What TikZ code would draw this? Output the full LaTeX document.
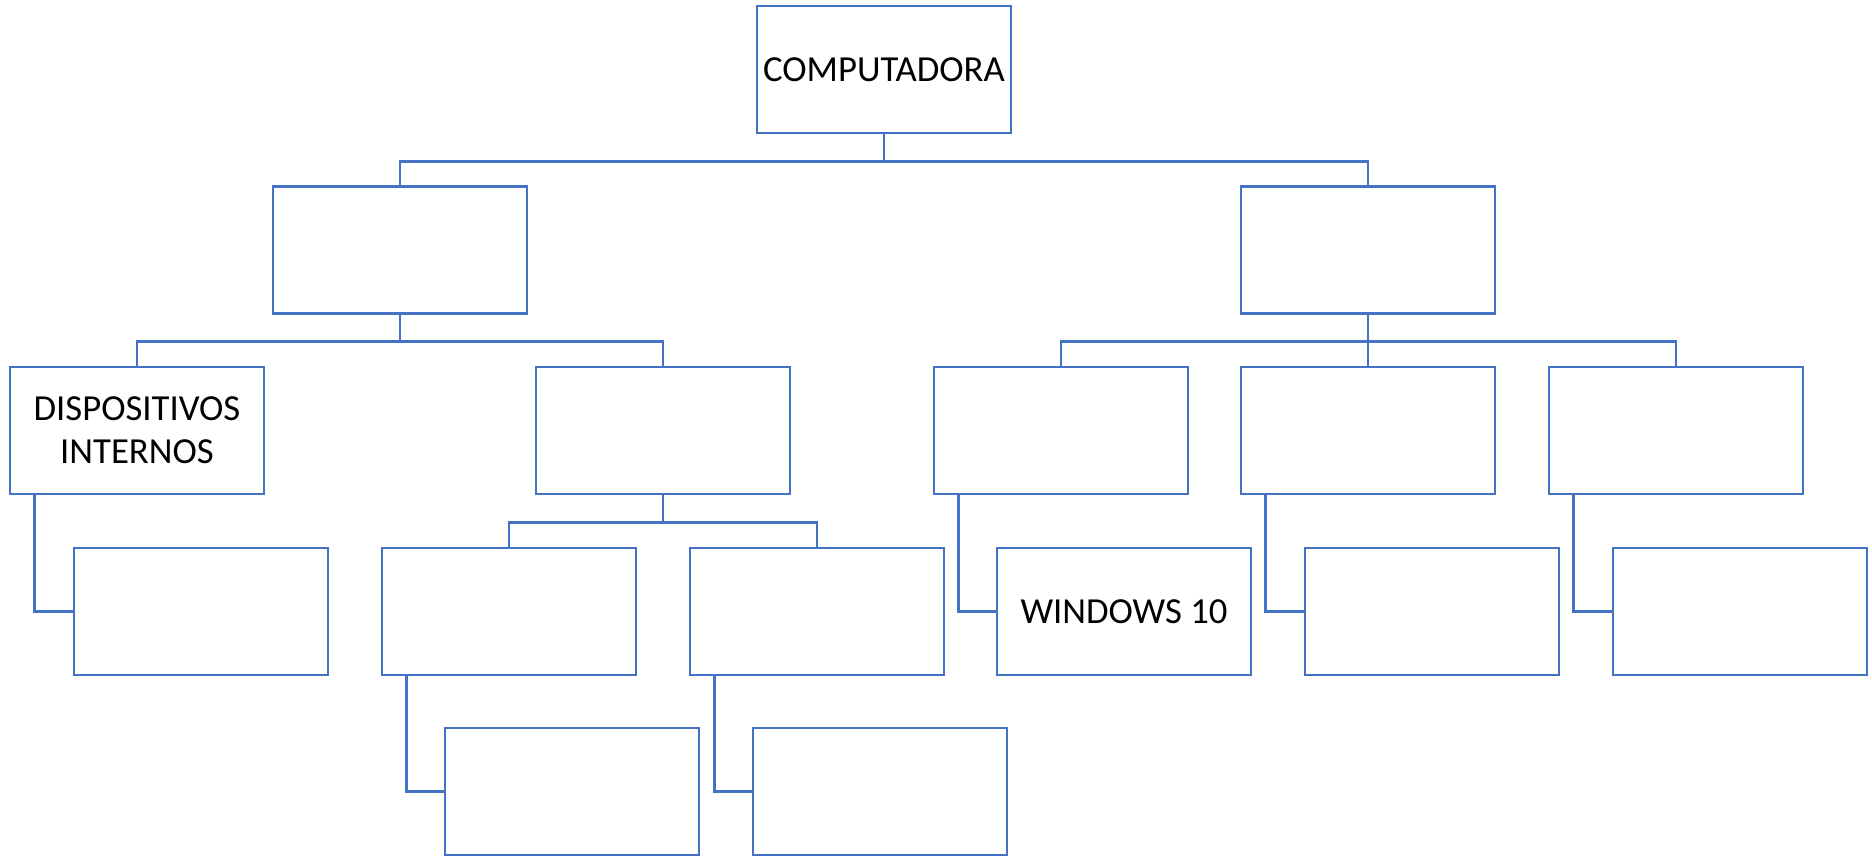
\documentclass[tikz,border=0pt]{standalone}
\usepackage{fontspec}
\setmainfont{Carlito}
\definecolor{boxblue}{HTML}{4472C4}
\tikzset{
  orgbox/.style={draw=boxblue, line width=2.7pt, fill=white,
    minimum width=254pt, minimum height=127pt, inner sep=0pt,
    align=center, font=\fontsize{36.7}{43}\selectfont},
  link/.style={draw=boxblue, line width=2.7pt},
}
\begin{document}
\begin{tikzpicture}[x=1pt, y=-1pt]
\useasboundingbox (0,0) rectangle (1872,855);

% root
\node[orgbox] (top) at (884,69.5) {COMPUTADORA};

% first level
\node[orgbox] (l1a) at (400,250) {};
\node[orgbox] (l1b) at (1368,250) {};

% second level
\node[orgbox] (disp) at (137,430.5) {DISPOSITIVOS\\INTERNOS};
\node[orgbox] (b)    at (663,430.5) {};
\node[orgbox] (d1)   at (1061,430.5) {};
\node[orgbox] (d2)   at (1368,430.5) {};
\node[orgbox] (d3)   at (1676,430.5) {};

% third level
\node[orgbox] (dispc) at (201,611.5) {};
\node[orgbox] (c1)    at (509,611.5) {};
\node[orgbox] (c2)    at (817,611.5) {};
\node[orgbox] (e1)    at (1124,611.5) {WINDOWS 10};
\node[orgbox] (e2)    at (1432,611.5) {};
\node[orgbox] (e3)    at (1740,611.5) {};

% fourth level
\node[orgbox] (c1c) at (572,791.5) {};
\node[orgbox] (c2c) at (880,791.5) {};

% tree connectors
\foreach \p/\c in {top/l1a, top/l1b, l1a/disp, l1a/b, l1b/d1, l1b/d2, l1b/d3, b/c1, b/c2}
  \draw[link] (\p.south) -- ++(0,26.8) -| (\c.north);

% side elbows
\foreach \p/\c in {disp/dispc, c1/c1c, c2/c2c, d1/e1, d2/e2, d3/e3}
  \draw[link] ([xshift=25.5pt]\p.south west) |- (\c.west);
\end{tikzpicture}
\end{document}
